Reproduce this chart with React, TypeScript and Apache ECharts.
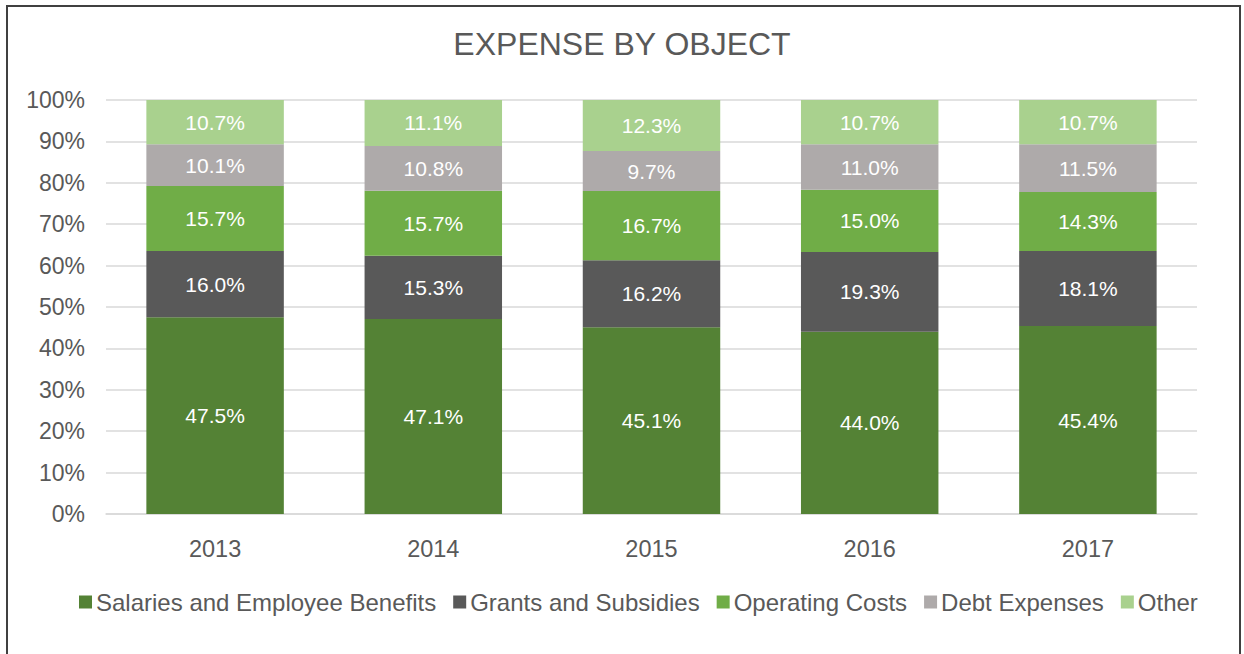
import React, { useEffect, useRef } from "react";
import * as echarts from "echarts";

const categories = ["2013", "2014", "2015", "2016", "2017"];
const salaries = [47.5, 47.1, 45.1, 44.0, 45.4];
const grants = [16.0, 15.3, 16.2, 19.3, 18.1];
const operating = [15.7, 15.7, 16.7, 15.0, 14.3];
const debt = [10.1, 10.8, 9.7, 11.0, 11.5];
const other = [10.7, 11.1, 12.3, 10.7, 10.7];

const seriesDefs = [
  { name: "Salaries and Employee Benefits", data: salaries, color: "#548235" },
  { name: "Grants and Subsidies", data: grants, color: "#595959" },
  { name: "Operating Costs", data: operating, color: "#70AD47" },
  { name: "Debt Expenses", data: debt, color: "#AEAAAA" },
  { name: "Other", data: other, color: "#A9D18E" },
];

const FONT = "'Liberation Sans', Arial, sans-serif";
const TEXT = "#595959";

export default function App() {
  const ref = useRef<HTMLDivElement>(null);
  useEffect(() => {
    document.body.style.margin = "0";
    const chart = echarts.init(ref.current!, null, { renderer: "svg" });
    chart.setOption({
      animation: false,
      backgroundColor: "#ffffff",
      textStyle: { fontFamily: FONT },
      title: {
        text: "EXPENSE BY OBJECT",
        left: "center",
        top: 23,
        textStyle: { fontFamily: FONT, fontSize: 32, fontWeight: "normal", color: TEXT },
      },
      graphic: [
        {
          type: "rect",
          shape: { x: 7, y: 6, width: 1233, height: 700 },
          style: { fill: "none", stroke: "#404040", lineWidth: 2 },
          silent: true,
          z: 100,
        },
      ],
      legend: {
        bottom: 35,
        left: 74,
        itemWidth: 13,
        itemHeight: 13,
        itemGap: 17,
        icon: "rect",
        textStyle: { fontFamily: FONT, fontSize: 24, color: TEXT, padding: [0, 0, 0, -1] },
        data: seriesDefs.map((s) => s.name),
      },
      grid: { left: 106, right: 47, top: 100, bottom: 140 },
      xAxis: {
        type: "category",
        data: categories,
        axisTick: { show: false },
        axisLine: { lineStyle: { color: "#D9D9D9", width: 1.5 } },
        axisLabel: { fontFamily: FONT, fontSize: 23.5, color: TEXT, margin: 23 },
      },
      yAxis: {
        type: "value",
        min: 0,
        max: 100,
        interval: 10,
        axisLine: { show: false },
        axisTick: { show: false },
        axisLabel: { fontFamily: FONT, fontSize: 23, color: TEXT, margin: 21, formatter: "{value}%" },
        splitLine: { lineStyle: { color: "#D9D9D9", width: 1.5 } },
      },
      series: seriesDefs.map((s) => ({
        name: s.name,
        type: "bar",
        stack: "total",
        barWidth: "63%",
        data: s.data,
        itemStyle: { color: s.color },
        label: {
          show: true,
          position: "inside",
          color: "#ffffff",
          fontFamily: FONT,
          fontSize: 21,
          formatter: (p: any) => p.value.toFixed(1) + "%",
        },
      })),
    });
    return () => chart.dispose();
  }, []);
  return <div ref={ref} style={{ width: 1244, height: 654 }} />;
}
